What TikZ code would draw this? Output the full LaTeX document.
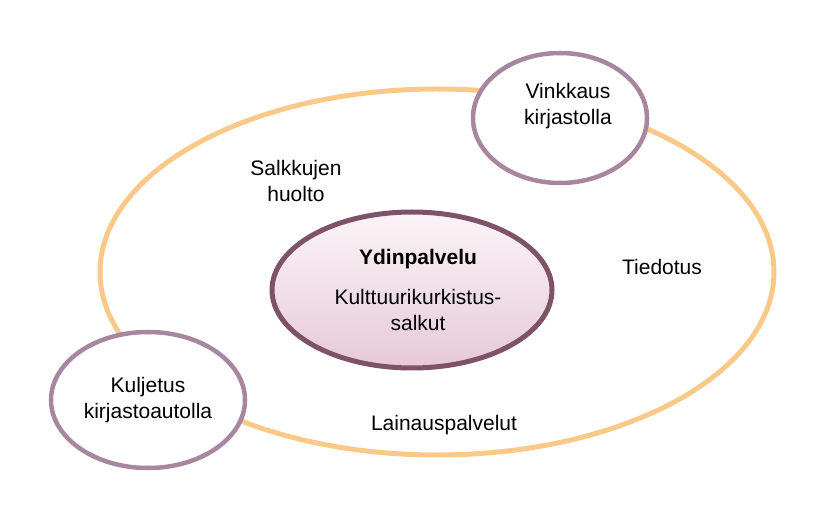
\documentclass[tikz,border=0pt]{standalone}
\usepackage{fontspec}
\setmainfont{Liberation Sans}
\begin{document}
\begin{tikzpicture}[x=1pt,y=-1pt,
  txt/.style={align=center,font=\fontsize{21}{26}\selectfont},
  sat/.style={draw=satc,line width=4.5pt,fill=white}]
\definecolor{orng}{HTML}{F9C98A}
\definecolor{satc}{HTML}{A8869F}
\definecolor{corec}{HTML}{7E5367}
\definecolor{topc}{HTML}{FBF4F7}
\definecolor{botc}{HTML}{E6CAD6}
\useasboundingbox (0,0) rectangle (827,526);
\draw[orng,line width=5pt] (437,272) ellipse[x radius=337,y radius=183];
\shade[top color=topc,bottom color=botc,draw=corec,line width=5pt] (412,290) ellipse[x radius=140,y radius=78];
\node[txt] (core) at (418,290) {\textbf{Ydinpalvelu}\\[14pt]Kulttuurikurkistus-\\salkut};
\draw[sat] (560,118) ellipse[x radius=87,y radius=65];
\node[txt] (vink) at (568,106) {Vinkkaus\\kirjastolla};
\draw[sat] (148,400) ellipse[x radius=97,y radius=68];
\node[txt] (kulj) at (148,400) {Kuljetus\\kirjastoautolla};
\node[txt] (salk) at (296,181) {Salkkujen\\huolto};
\node[txt] (tied) at (662,267) {Tiedotus};
\node[txt] (lain) at (444,425) {Lainauspalvelut};
\end{tikzpicture}
\end{document}
